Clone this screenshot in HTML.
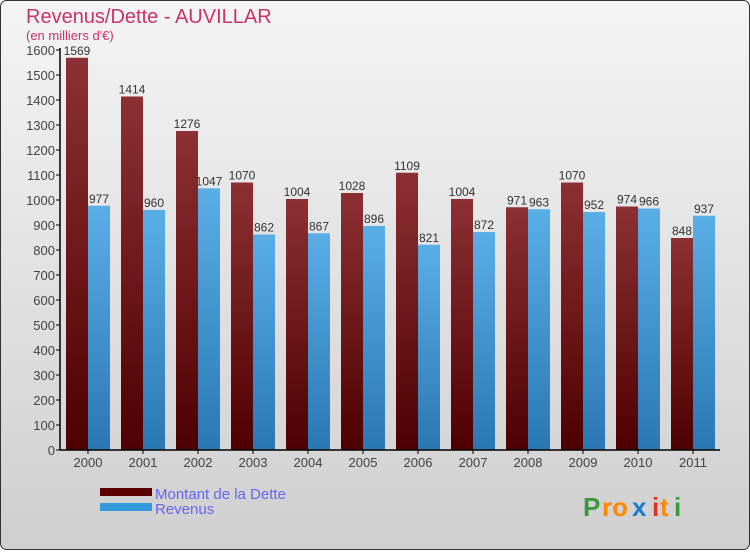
<!DOCTYPE html>
<html><head><meta charset="utf-8"><style>
body{margin:0;width:750px;height:550px;overflow:hidden;font-family:"Liberation Sans",sans-serif}
</style></head><body>
<svg id="chart" width="750" height="550" xmlns="http://www.w3.org/2000/svg">
<defs>
<linearGradient id="bg" x1="0" y1="0" x2="0" y2="1"><stop offset="0" stop-color="#f4f4f4"/><stop offset="1" stop-color="#cfcfcf"/></linearGradient>
<linearGradient id="gd" x1="0" y1="0" x2="0" y2="1"><stop offset="0" stop-color="#8c3034"/><stop offset="1" stop-color="#4e0000"/></linearGradient>
<linearGradient id="gr" x1="0" y1="0" x2="0" y2="1"><stop offset="0" stop-color="#5aaee6"/><stop offset="1" stop-color="#2a78b2"/></linearGradient>
</defs>
<rect x="0.5" y="0.5" width="749" height="549" rx="6" fill="url(#bg)" stroke="#333"/>
<text x="26" y="23" font-size="20" fill="#c8336a">Revenus/Dette - AUVILLAR</text>
<text x="26" y="40" font-size="13" fill="#c8336a">(en milliers d'€)</text>
<g id="plot"></g>
<rect x="100" y="488" width="52" height="8" fill="#5a0000"/>
<text x="155" y="499" font-size="15" fill="#6666ee">Montant de la Dette</text>
<rect x="100" y="503" width="52" height="8" fill="#3399dd"/>
<text x="155" y="514" font-size="15" fill="#6666ee">Revenus</text>
<g font-size="26" font-weight="bold">
<text x="583" y="516" fill="#3a9a3a">P</text><text x="602" y="516" fill="#ff8800">ro</text><text x="632" y="516" fill="#1a7ad4">x</text><text x="652" y="516" fill="#e03020">i</text><text x="660" y="516" fill="#ff8800">t</text><text x="674" y="516" fill="#3a9a3a">i</text>
</g>
</svg>
<script>
const years=["2000","2001","2002","2003","2004","2005","2006","2007","2008","2009","2010","2011"];
const debt=[1569,1414,1276,1070,1004,1028,1109,1004,971,1070,974,848];
const revenue=[977,960,1047,862,867,896,821,872,963,952,966,937];
const yTicks=[0,100,200,300,400,500,600,700,800,900,1000,1100,1200,1300,1400,1500,1600];
const NS="http://www.w3.org/2000/svg";
const g=document.getElementById('plot');
const X0=60,X1=720,Y0=450,Y1=50,VMAX=1600,GW=55,BW=22;
const y=v=>Y0-(v/VMAX)*(Y0-Y1);
const gx=i=>X0+i*GW;
function mk(t,a,txt){const e=document.createElementNS(NS,t);for(const k in a)e.setAttribute(k,a[k]);if(txt!==undefined)e.textContent=txt;g.appendChild(e);return e;}
yTicks.forEach(t=>{
 const l=mk('line',{x1:X0-4,x2:X0,y1:y(t),y2:y(t),stroke:'#000'});
 
 
 const tx=mk('text',{x:X0-5,y:y(t)+5,'text-anchor':'end','font-size':13,fill:'#444'},t);
 
 
});
years.forEach((yr,i)=>{
 const b1=mk('rect',{x:gx(i)+6,y:y(debt[i]),width:BW,height:Y0-y(debt[i]),fill:'url(#gd)'});
 
 
 const b2=mk('rect',{x:gx(i)+6+BW,y:y(revenue[i]),width:BW,height:Y0-y(revenue[i]),fill:'url(#gr)'});
 
 
 const l1=mk('text',{x:gx(i)+6+BW/2,y:y(debt[i])-3,'text-anchor':'middle','font-size':12,fill:'#333'},debt[i]);
 
 
 const l2=mk('text',{x:gx(i)+6+BW*1.5,y:y(revenue[i])-3,'text-anchor':'middle','font-size':12,fill:'#333'},revenue[i]);
 
 
 const xl=mk('text',{x:gx(i)+6+BW,y:467,'text-anchor':'middle','font-size':13,fill:'#444'},yr);
 
 
 const xt=mk('line',{x1:gx(i)+6+BW,x2:gx(i)+6+BW,y1:Y0,y2:Y0+4,stroke:'#000'});
 
 
});
const ya=mk('line',{x1:X0,x2:X0,y1:Y1-2,y2:Y0,stroke:'#000','stroke-width':1.5});


const xa=mk('line',{x1:X0,x2:X1,y1:Y0,y2:Y0,stroke:'#000','stroke-width':1.5});


</script>
</body></html>
